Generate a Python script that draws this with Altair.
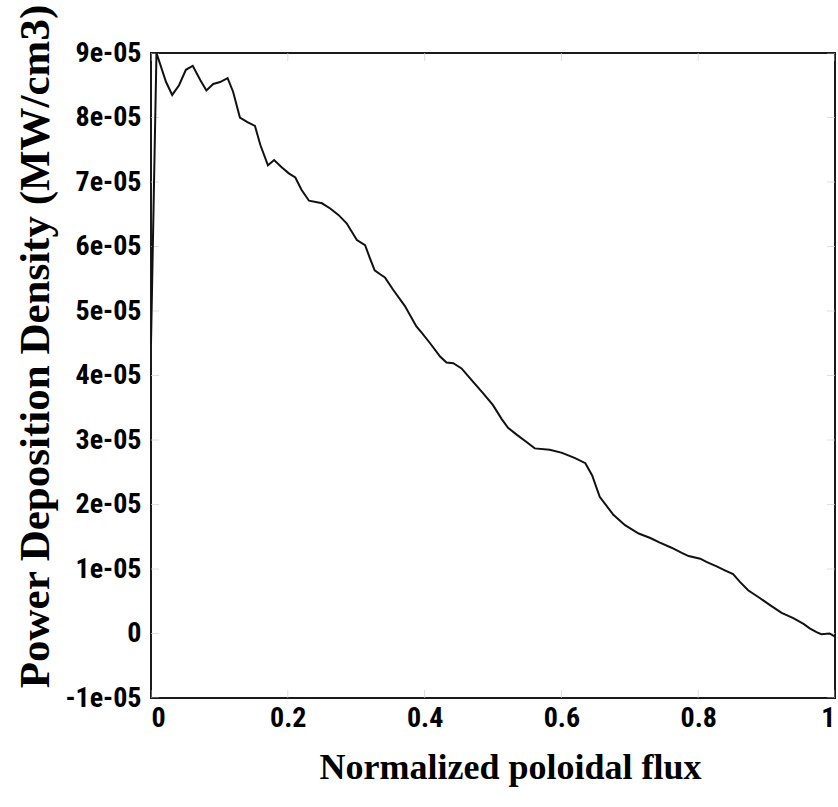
import altair as alt
import pandas as pd

# Normalized poloidal flux (x) and power deposition density in units of 1e-05 MW/cm3 (y)
flux = [0.0, 0.008, 0.022, 0.031, 0.041, 0.051, 0.061, 0.072, 0.081, 0.091,
        0.101, 0.112, 0.120, 0.130, 0.141, 0.152, 0.160, 0.171, 0.180, 0.191,
        0.202, 0.211, 0.220, 0.231, 0.250, 0.262, 0.274, 0.286, 0.301, 0.313,
        0.320, 0.327, 0.335, 0.342, 0.354, 0.371, 0.388, 0.396, 0.408, 0.423,
        0.432, 0.442, 0.454, 0.471, 0.486, 0.500, 0.513, 0.522, 0.535, 0.549,
        0.561, 0.583, 0.601, 0.620, 0.635, 0.645, 0.656, 0.676, 0.693, 0.713,
        0.730, 0.744, 0.761, 0.776, 0.786, 0.803, 0.812, 0.827, 0.839, 0.851,
        0.861, 0.873, 0.890, 0.905, 0.922, 0.939, 0.954, 0.963, 0.973, 0.980,
        0.992, 1.0]
density_e5 = [4.5, 9.0, 8.55, 8.35, 8.50, 8.74, 8.80, 8.58, 8.42, 8.52,
              8.55, 8.61, 8.40, 8.00, 7.93, 7.87, 7.57, 7.26, 7.34, 7.23,
              7.13, 7.07, 6.88, 6.71, 6.67, 6.59, 6.49, 6.36, 6.10, 6.02,
              5.82, 5.63, 5.57, 5.52, 5.33, 5.08, 4.76, 4.66, 4.50, 4.29,
              4.20, 4.19, 4.11, 3.90, 3.72, 3.54, 3.32, 3.19, 3.08, 2.97,
              2.87, 2.85, 2.80, 2.72, 2.64, 2.45, 2.12, 1.84, 1.68, 1.55,
              1.48, 1.41, 1.33, 1.25, 1.20, 1.16, 1.11, 1.04, 0.98, 0.92,
              0.80, 0.67, 0.55, 0.44, 0.32, 0.24, 0.15, 0.08, 0.02, -0.01,
              0.0, -0.05]
UNIT = 1e-05

x_ticks = [0, 0.2, 0.4, 0.6, 0.8, 1]
y_ticks = [-1e-05, 0, 1e-05, 2e-05, 3e-05, 4e-05, 5e-05, 6e-05, 7e-05, 8e-05, 9e-05]
x_domain = [0, 1]
y_domain = [-1e-05, 9e-05]

x_title = "Normalized poloidal flux"
y_title = "Power Deposition Density (MW/cm3)"

df = pd.DataFrame({"flux": flux, "density": [v * UNIT for v in density_e5]})
xt = pd.DataFrame({"t": x_ticks})
yt = pd.DataFrame({"t": y_ticks})

LABEL_FONT = "Liberation Sans Narrow, Roboto Condensed, DejaVu Sans Condensed, Arial Narrow, sans-serif"
TITLE_FONT = "Liberation Serif, Times New Roman, serif"

y_label_expr = ("abs(datum.value) < 1e-12 ? '0' : "
                "(datum.value < 0 ? '-' : '') + replace(format(abs(datum.value), '.0e'), 'e-', 'e-0')")

xscale = alt.Scale(domain=x_domain, nice=False, zero=False)
yscale = alt.Scale(domain=y_domain, nice=False, zero=False)

line = alt.Chart(df).mark_line(color="#111111", strokeWidth=2, clip=True).encode(
    x=alt.X("flux:Q", scale=xscale,
            axis=alt.Axis(values=x_ticks, format="~g", title=x_title,
                          labelPadding=6, titleX=359, titleY=80,
                          titleAlign="center", titleBaseline="alphabetic",
                          titleFontSize=36)),
    y=alt.Y("density:Q", scale=yscale,
            axis=alt.Axis(values=y_ticks, labelExpr=y_label_expr, title=y_title,
                          labelPadding=10, titleX=-103, titleY=293, titleAngle=270,
                          titleAlign="center", titleBaseline="alphabetic",
                          titleFontSize=43)),
)

tick_style = dict(color="#d0d0d0", thickness=1, size=16, clip=True)
bottom_ticks = alt.Chart(xt).mark_tick(orient="vertical", **tick_style).encode(
    x=alt.X("t:Q", scale=xscale), y=alt.datum(y_domain[0]))
top_ticks = alt.Chart(xt).mark_tick(orient="vertical", **tick_style).encode(
    x=alt.X("t:Q", scale=xscale), y=alt.datum(y_domain[1]))
left_ticks = alt.Chart(yt).mark_tick(orient="horizontal", **tick_style).encode(
    y=alt.Y("t:Q", scale=yscale), x=alt.datum(x_domain[0]))
right_ticks = alt.Chart(yt).mark_tick(orient="horizontal", **tick_style).encode(
    y=alt.Y("t:Q", scale=yscale), x=alt.datum(x_domain[1]))

chart = alt.layer(bottom_ticks, top_ticks, left_ticks, right_ticks, line).properties(
    width=684, height=645,
    autosize=alt.AutoSizeParams(type="none"),
    padding={"left": 151, "top": 53, "right": 3, "bottom": 109},
    background="white",
).configure_view(
    stroke="#1a1a1a", strokeWidth=2
).configure_axis(
    grid=False, ticks=False, domain=False,
    labelFont=LABEL_FONT, labelFontWeight="bold", labelFontSize=28, labelColor="black",
    titleFont=TITLE_FONT, titleFontWeight="bold", titleColor="black",
)

chart.save("out.html", embed_options={"renderer": "svg", "actions": False})
